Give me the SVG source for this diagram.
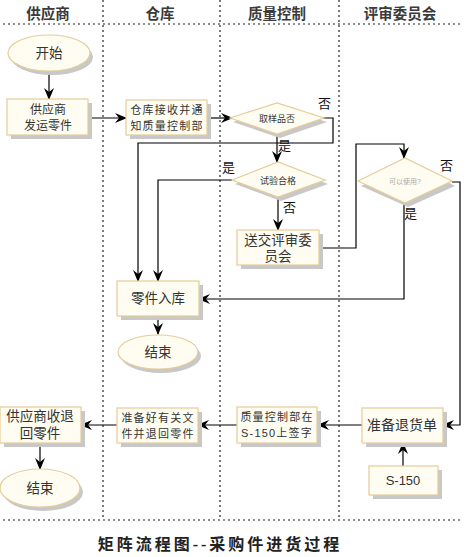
<svg xmlns="http://www.w3.org/2000/svg" width="473" height="557" viewBox="0 0 473 557">
<style>
.lane{stroke:#222;stroke-width:1.2;stroke-dasharray:2,3;fill:none}
.hdr{font-family:"Liberation Sans","Noto Sans CJK SC",sans-serif;font-weight:bold;font-size:14.5px;fill:#3a3a3a;text-anchor:middle}
.box{fill:#fffdf2;stroke:#e6cc99;stroke-width:1.2}
.sh{fill:#c8c8c8}
.t{font-family:"Liberation Sans","Noto Sans CJK SC",sans-serif;fill:#333;text-anchor:middle}
.s{font-size:11px;letter-spacing:1.2px}
.m{font-size:13.5px}
.d{font-size:9px}
.lbl{font-family:"Liberation Sans","Noto Sans CJK SC",sans-serif;font-size:13px;fill:#111}
.c{stroke:#000;stroke-width:1.2;fill:none}
.ttl{font-family:"Liberation Serif","Noto Sans CJK SC",serif;font-weight:bold;font-size:16px;fill:#222;text-anchor:middle;letter-spacing:3px}
</style>
<defs>
<marker id="ah" viewBox="0 0 12 10" refX="11" refY="5" markerWidth="12" markerHeight="10" markerUnits="userSpaceOnUse" orient="auto">
<path d="M0,0 L12,5 L0,10 L4,5 z" fill="#000"/>
</marker>
</defs>
<rect width="473" height="557" fill="#fff"/>
<g id="lanes">
<line class="lane" x1="3" y1="24" x2="463" y2="24"/>
<line class="lane" x1="3" y1="520" x2="463" y2="520"/>
<line class="lane" x1="103" y1="0" x2="103" y2="520"/>
<line class="lane" x1="220" y1="0" x2="220" y2="520"/>
<line class="lane" x1="339" y1="0" x2="339" y2="520"/>
<text class="hdr" x="48" y="19">供应商</text>
<text class="hdr" x="160" y="19">仓库</text>
<text class="hdr" x="277" y="19">质量控制</text>
<text class="hdr" x="400" y="19">评审委员会</text>
</g>
<g id="connectors">
<line class="c" x1="49" y1="72" x2="49" y2="99" marker-end="url(#ah)"/>
<line class="c" x1="88" y1="118" x2="126" y2="118" marker-end="url(#ah)"/>
<line class="c" x1="207" y1="118" x2="232" y2="118" marker-end="url(#ah)"/>
<polyline class="c" points="323,118 333,118 333,143 138,143 138,281" marker-end="url(#ah)"/>
<line class="c" x1="277" y1="134" x2="277" y2="162" marker-end="url(#ah)"/>
<polyline class="c" points="232,180 158,180 158,281" marker-end="url(#ah)"/>
<line class="c" x1="278" y1="197" x2="278" y2="230" marker-end="url(#ah)"/>
<polyline class="c" points="319,248 356,248 356,144 404,144 404,158" marker-end="url(#ah)"/>
<polyline class="c" points="404,203 404,299 199,299" marker-end="url(#ah)"/>
<polyline class="c" points="452,182 460,182 460,425 443,425" marker-end="url(#ah)"/>
<line class="c" x1="158" y1="316" x2="158" y2="334" marker-end="url(#ah)"/>
<line class="c" x1="403" y1="466" x2="403" y2="443" marker-end="url(#ah)"/>
<line class="c" x1="362" y1="425" x2="318" y2="425" marker-end="url(#ah)"/>
<line class="c" x1="237" y1="425" x2="198" y2="425" marker-end="url(#ah)"/>
<line class="c" x1="117" y1="425" x2="81" y2="425" marker-end="url(#ah)"/>
<line class="c" x1="40" y1="443" x2="40" y2="469" marker-end="url(#ah)"/>
<text class="lbl" x="318" y="108">否</text>
<text class="lbl" x="278" y="150">是</text>
<text class="lbl" x="222" y="172">是</text>
<text class="lbl" x="283" y="212">否</text>
<text class="lbl" x="440" y="170">否</text>
<text class="lbl" x="404" y="218">是</text>
</g>
<g id="start">
<ellipse class="sh" cx="52" cy="57" rx="41" ry="18"/>
<ellipse class="box" cx="49" cy="53" rx="41" ry="18"/>
<text class="t m" x="49" y="58">开始</text>
</g>
<g id="supplier-ship">
<rect class="sh" x="11" y="103" width="81" height="36"/>
<rect class="box" x="7" y="99" width="81" height="36"/>
<text class="t" font-size="12" x="48" y="114">供应商</text>
<text class="t" font-size="12" x="48" y="130">发运零件</text>
</g>
<g id="warehouse-receive">
<rect class="sh" x="130" y="104" width="81" height="35"/>
<rect class="box" x="126" y="100" width="81" height="35"/>
<text class="t s" x="167" y="114">仓库接收并通</text>
<text class="t s" x="167" y="130">知质量控制部</text>
</g>
<g id="sample">
<polygon class="sh" points="233,122 280,107 327,122 280,138"/>
<polygon class="box" points="230,118 277,103 324,118 277,134"/>
<text class="t d" x="277" y="122">取样品否</text>
</g>
<g id="test">
<polygon class="sh" points="235,184 281,166 328,184 281,201"/>
<polygon class="box" points="232,180 278,162 325,180 278,197"/>
<text class="t d" x="278" y="184">试验合格</text>
</g>
<g id="send-review">
<rect class="sh" x="241" y="234" width="82" height="35"/>
<rect class="box" x="237" y="230" width="82" height="35"/>
<text class="t m" x="278" y="245">送交评审委</text>
<text class="t m" x="278" y="261">员会</text>
</g>
<g id="usable">
<polygon class="sh" points="361,186 408,162 455,186 408,207"/>
<polygon class="box" points="358,181 405,158 452,181 405,203"/>
<text class="t" font-size="7" fill="#aaa" style="fill:#aaa" x="405" y="184">可以使用?</text>
</g>
<g id="store">
<rect class="sh" x="121" y="285" width="82" height="35"/>
<rect class="box" x="117" y="281" width="82" height="35"/>
<text class="t m" x="158" y="303">零件入库</text>
</g>
<g id="end1">
<ellipse class="sh" cx="161" cy="356" rx="40" ry="17"/>
<ellipse class="box" cx="158" cy="352" rx="40" ry="17"/>
<text class="t m" x="158" y="357">结束</text>
</g>
<g id="prepare-return">
<rect class="sh" x="366" y="412" width="81" height="35"/>
<rect class="box" x="362" y="408" width="81" height="35"/>
<text class="t" font-size="14" x="402" y="430">准备退货单</text>
</g>
<g id="s150">
<rect class="sh" x="373" y="470" width="69" height="29"/>
<rect class="box" x="369" y="466" width="69" height="29"/>
<text class="t" font-size="13" x="403" y="485">S-150</text>
</g>
<g id="qc-sign">
<rect class="sh" x="241" y="411" width="80" height="36"/>
<rect class="box" x="237" y="407" width="80" height="36"/>
<text class="t s" x="277" y="421">质量控制部在</text>
<text class="t s" x="277" y="437">S-150上签字</text>
</g>
<g id="prepare-docs">
<rect class="sh" x="121" y="412" width="81" height="35"/>
<rect class="box" x="117" y="408" width="81" height="35"/>
<text class="t s" x="158" y="422">准备好有关文</text>
<text class="t s" x="158" y="438">件并退回零件</text>
</g>
<g id="supplier-receive">
<rect class="sh" x="4" y="411" width="81" height="36"/>
<rect class="box" x="0" y="407" width="81" height="36"/>
<text class="t m" x="40" y="421">供应商收退</text>
<text class="t m" x="40" y="438">回零件</text>
</g>
<g id="end2">
<ellipse class="sh" cx="43" cy="492" rx="40" ry="19"/>
<ellipse class="box" cx="40" cy="488" rx="40" ry="19"/>
<text class="t m" x="40" y="493">结束</text>
</g>
<text class="ttl" x="220" y="550">矩阵流程图--采购件进货过程</text>
</svg>
